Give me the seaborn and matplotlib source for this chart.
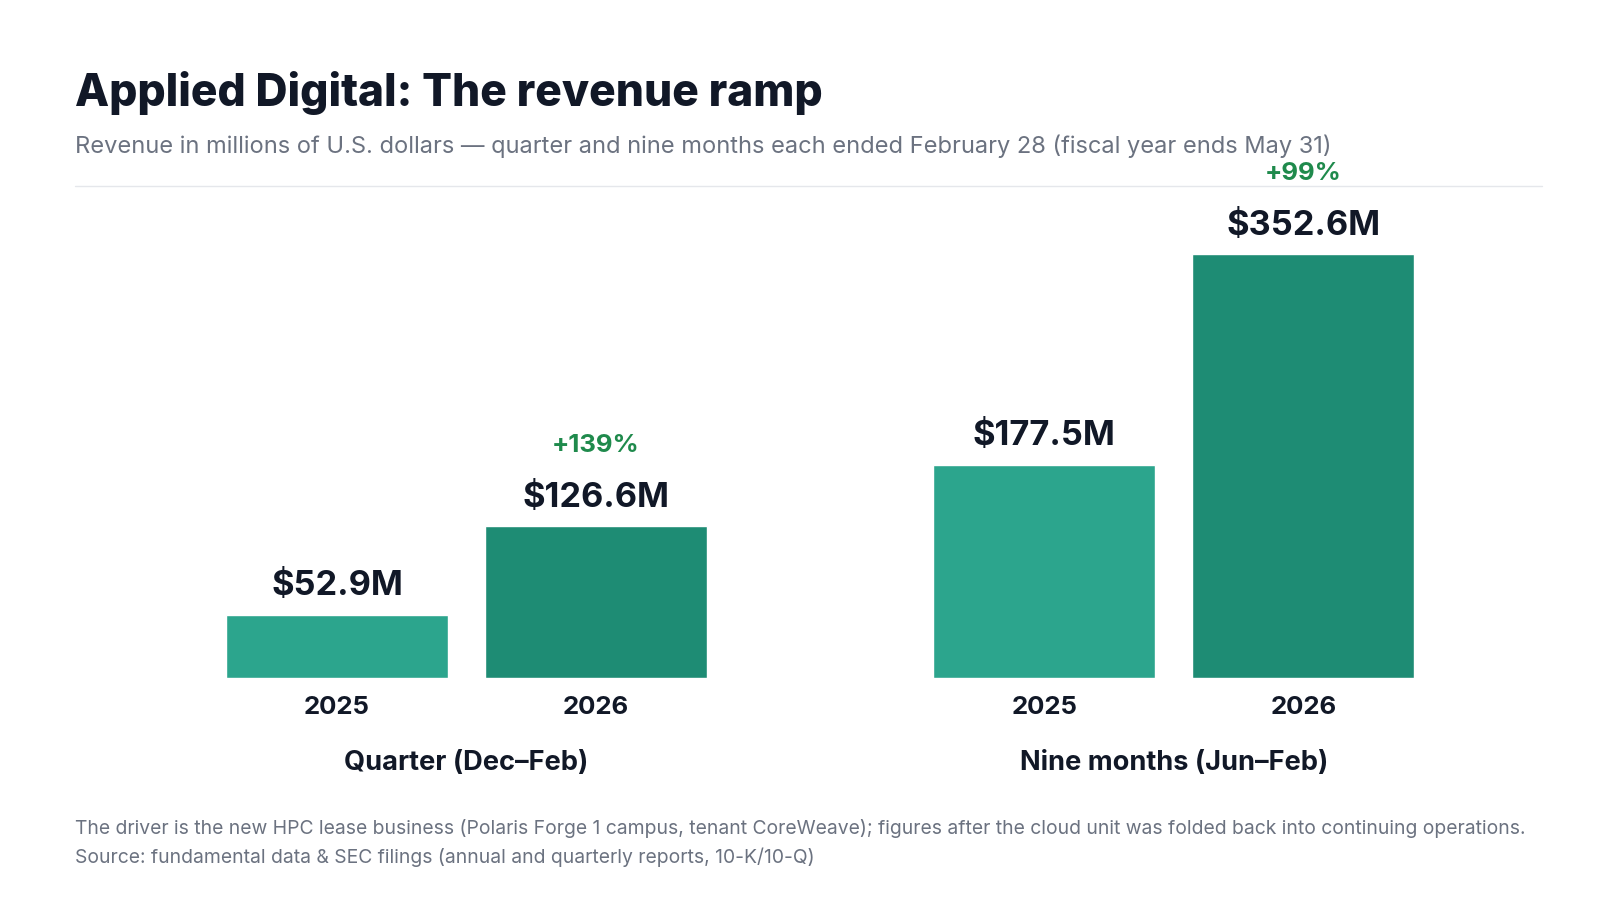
import matplotlib
matplotlib.use('Agg')
import matplotlib.pyplot as plt
import seaborn as sns
import pandas as pd

periods = ["Quarter (Dec\u2013Feb)", "Nine months (Jun\u2013Feb)"]
years = ["2025", "2026"]
revenue_2025 = [52.9, 177.5]
revenue_2026 = [126.6, 352.6]
growth = ["+139%", "+99%"]

df = pd.DataFrame({
    "period": periods * 2,
    "year": [years[0]] * 2 + [years[1]] * 2,
    "revenue": revenue_2025 + revenue_2026,
})

sns.set_theme(style="white")
plt.rcParams['font.family'] = ['Inter', 'DejaVu Sans']

DARK = "#111827"
GRAY = "#6b7280"
W, H = 1552, 873  # layout measured on this grid
S = 1600 / W

fig = plt.figure(figsize=(16, 9), dpi=100)
ax = fig.add_axes([73 / W, 1 - 658 / H, 1423 / W, 468 / H])

sns.barplot(data=df, x="period", y="revenue", hue="year", order=periods, hue_order=years,
            palette=["#2ca58d", "#1e8c74"], width=0.732, gap=0.143, ax=ax, legend=False,
            saturation=1)
ax.set_xlim(-0.553, 1.521)
ax.set_ylim(0, 401)
ax.axis("off")

for ci, cont in enumerate(ax.containers):
    for bi, bar in enumerate(cont):
        cx = bar.get_x() + bar.get_width() / 2
        h = bar.get_height()
        ax.annotate("${:.1f}M".format(h), (cx, h), xytext=(0, 12 * S), textcoords="offset pixels",
                    ha="center", va="bottom", fontsize=24 * S, fontweight="bold", color=DARK)
        ax.annotate(years[ci], (cx, 0), xytext=(0, -28 * S), textcoords="offset pixels",
                    ha="center", va="center", fontsize=18 * S, fontweight="bold", color=DARK)
        if ci == 1:
            ax.annotate(growth[bi], (cx, h), xytext=(0, 78 * S), textcoords="offset pixels",
                        ha="center", va="center", fontsize=18 * S, fontweight="bold", color="#1f8a4c")

for i, p in enumerate(periods):
    ax.annotate(p, (i, 0), xytext=(0, -82 * S), textcoords="offset pixels",
                ha="center", va="center", fontsize=19 * S, fontweight="bold", color=DARK)

fig.text(73 / W, 1 - 90 / H, "Applied Digital: The revenue ramp", fontsize=31 * S,
         fontweight="heavy", color=DARK, va="center")
fig.text(73 / W, 1 - 142 / H,
         "Revenue in millions of U.S. dollars \u2014 quarter and nine months each ended February 28 (fiscal year ends May 31)",
         fontsize=16.5 * S, color=GRAY, va="center")
fig.add_artist(plt.Line2D([73 / W, 1496 / W], [1 - 180 / H] * 2, color="#e5e7eb", lw=1))
fig.text(73 / W, 1 - 804 / H,
         "The driver is the new HPC lease business (Polaris Forge 1 campus, tenant CoreWeave); figures after the cloud unit was folded back into continuing operations.",
         fontsize=13.5 * S, color=GRAY, va="center")
fig.text(73 / W, 1 - 832 / H,
         "Source: fundamental data & SEC filings (annual and quarterly reports, 10-K/10-Q)",
         fontsize=13.5 * S, color=GRAY, va="center")

fig.savefig("out.png", dpi=100, facecolor="white")
